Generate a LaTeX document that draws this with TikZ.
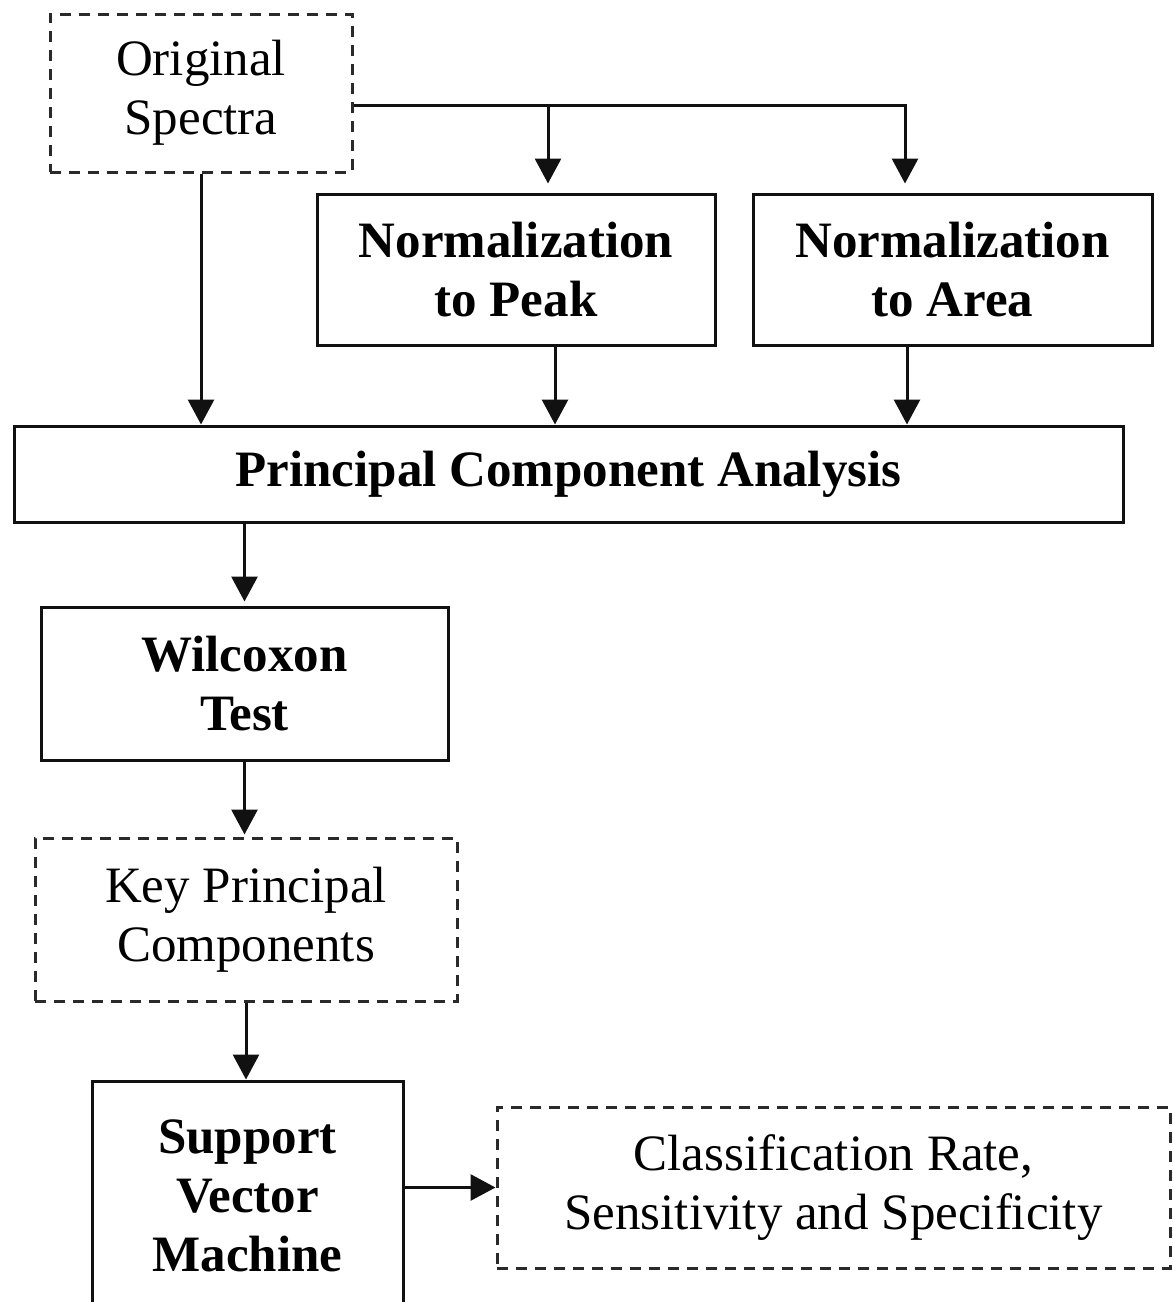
\documentclass[tikz,border=0pt]{standalone}
\usepackage{fontspec}
\setmainfont{Liberation Serif}
\usetikzlibrary{arrows.meta,calc}
\definecolor{ink}{HTML}{111111}
\definecolor{dashink}{HTML}{2A2A2A}
\newcommand{\boxfont}{\fontsize{25.5}{29.5}\selectfont}

\begin{document}
\begin{tikzpicture}[x=0.5pt,y=-0.5pt,font=\boxfont,
  solidbox/.style={draw=ink,line width=1.5pt,inner sep=0,align=center,font=\boxfont\bfseries},
  dashbox/.style={draw=dashink,line width=1.5pt,dash pattern=on 5.5pt off 4pt,inner sep=0,align=center},
  flow/.style={ink,line width=1.5pt,-{Triangle[length=12.5pt,width=13pt]}}]
\useasboundingbox (0,0) rectangle (1173,1302);
% boxes
\node[dashbox,minimum width=151pt,minimum height=79pt] (orig) at (201,93) {Original\\Spectra};
\node[solidbox,minimum width=199pt,minimum height=75.5pt] (peak) at (516,269.5) {Normalization\\to Peak};
\node[solidbox,minimum width=199.5pt,minimum height=75.5pt] (area) at (952.5,269.5) {Normalization\\to Area};
\node[solidbox,minimum width=554.5pt,minimum height=48pt] (pca) at (568.5,474) {Principal Component Analysis};
\node[solidbox,minimum width=203.5pt,minimum height=76.5pt] (wil) at (244.5,683.5) {Wilcoxon\\Test};
\node[dashbox,minimum width=211pt,minimum height=81.5pt] (key) at (246,919.5) {Key Principal\\Components};
\node[solidbox,minimum width=155.5pt,minimum height=114.5pt] (svm) at (247.5,1195.5) {Support\\Vector\\Machine};
\node[dashbox,minimum width=336.5pt,minimum height=80.5pt] (cls) at (833.5,1187.5) {Classification Rate,\\Sensitivity and Specificity};
% connectors
\coordinate (fork) at ($(orig.east)+(0,12)$);
\coordinate (topp) at ($(peak.north)+(32,0)$);
\coordinate (topa) at ($(area.north)+(-47.5,0)$);
\draw[flow,shorten >=4.5pt] (fork) -| (topa);
\draw[flow,shorten >=4.5pt] (fork -| topp) -- (topp);
\coordinate (botp) at ($(peak.south)+(39,0)$);
\coordinate (bota) at ($(area.south)+(-45.5,0)$);
\draw[flow] (orig.south) -- (orig.south |- pca.north);
\draw[flow] (botp) -- (botp |- pca.north);
\draw[flow] (bota) -- (bota |- pca.north);
\draw[flow,shorten >=2pt] (pca.south -| wil.north) -- (wil.north);
\draw[flow,shorten >=1pt] (wil.south) -- (wil.south |- key.north);
\draw[flow] (key.south) -- (key.south |- svm.north);
\draw[flow] (svm.east |- cls.west) -- (cls.west);
\end{tikzpicture}
\end{document}
